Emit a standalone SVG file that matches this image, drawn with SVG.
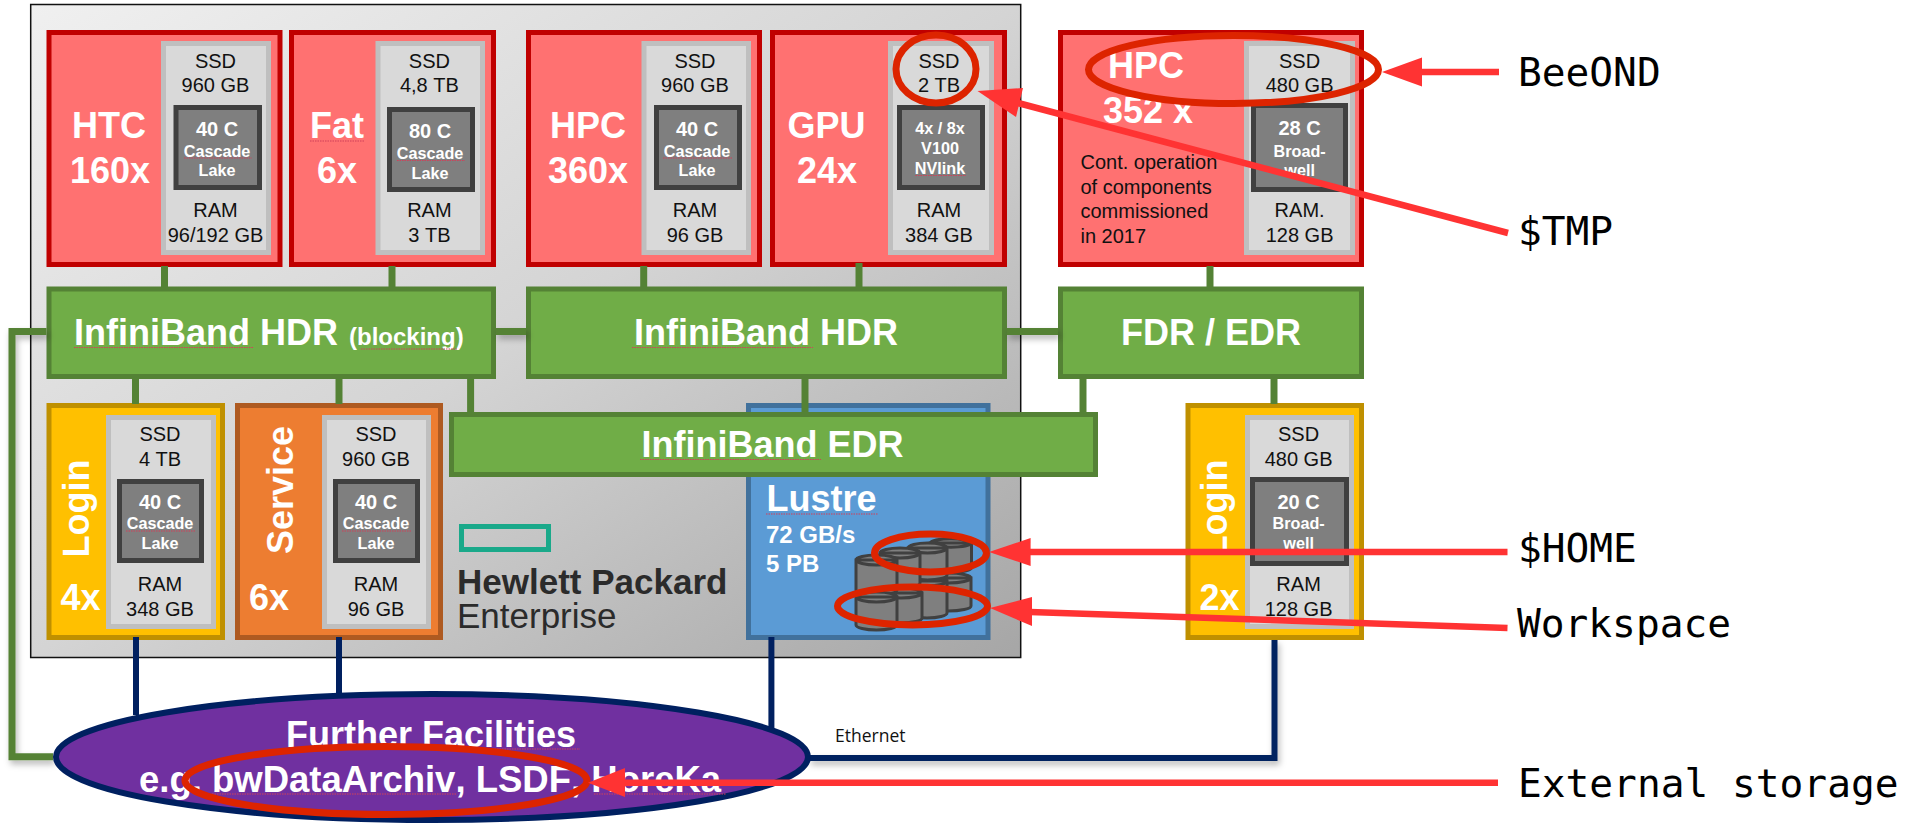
<svg xmlns="http://www.w3.org/2000/svg" width="1921" height="826" viewBox="0 0 1921 826">
<style>
text{font-family:"Liberation Sans",Arial,sans-serif;font-kerning:none}
.r{fill:#ff7171;stroke:#c00000;stroke-width:5}
.y{fill:#ffc000;stroke:#bf9000;stroke-width:5}
.o{fill:#ed7d31;stroke:#ae5a21;stroke-width:5}
.b{fill:#5b9bd5;stroke:#41719c;stroke-width:5}
.g{fill:#70ad47;stroke:#548235;stroke-width:5}
.in{fill:#d9d9d9;stroke:#bfbfbf;stroke-width:5}
.ch{fill:#7f7f7f;stroke:#404040;stroke-width:5}
.sp{font-size:20px;fill:#111;text-anchor:middle}
.c1{font-size:20px;font-weight:700;fill:#fff;text-anchor:middle}
.c2{font-size:16.2px;font-weight:700;fill:#fff;text-anchor:middle}
.big{font-size:36px;font-weight:700;fill:#fff;text-anchor:middle}
.bs{font-size:36px;font-weight:700;fill:#fff}
.note{font-size:20px;fill:#111}
.mono{font-family:"DejaVu Sans Mono","Liberation Mono",monospace;font-size:39.5px;fill:#000}
.sq{fill:none;stroke:#d0405a;stroke-width:1.2;stroke-dasharray:1.5 1}
.cg{fill:none;stroke:#548235;stroke-width:7}
.cn{fill:none;stroke:#002060;stroke-width:6}
.ring{fill:none;stroke:#dd2400;stroke-width:7}
.al{fill:none;stroke:#ff3333;stroke-width:6.5}
.ah{fill:#ff3333}
.cy{fill:#7f7f7f;stroke:#404040;stroke-width:3}
</style>
<defs>
<linearGradient id="panelGrad" x1="0" y1="0" x2="1" y2="1">
<stop offset="0" stop-color="#f0f0f0"/>
<stop offset="0.5" stop-color="#d4d4d4"/>
<stop offset="1" stop-color="#a6a6a6"/>
</linearGradient>
<filter id="shadow" x="-20%" y="-20%" width="140%" height="140%">
<feDropShadow dx="2" dy="4" stdDeviation="3" flood-color="#000" flood-opacity="0.28"/>
</filter>
</defs>

<rect id="panel" x="30.7" y="4.5" width="990" height="653" fill="url(#panelGrad)" stroke="#111" stroke-width="1.5"/>

<g id="node-htc">
<rect class="r" x="49" y="32.5" width="231" height="232"/>
<rect class="in" x="163.5" y="43.5" width="105" height="209"/>
<rect class="ch" x="176" y="107.5" width="83.5" height="80"/>
<text class="big" x="109" y="138">HTC</text><text class="big" x="110" y="182.5">160x</text>
<text class="sp" x="215.5" y="67.7">SSD</text><text class="sp" x="215.5" y="92">960 GB</text>
<text class="c1" x="217" y="136">40 C</text><text class="c2" x="217" y="156.7">Cascade</text><text class="c2" x="217" y="176">Lake</text>
<text class="sp" x="215.5" y="217">RAM</text><text class="sp" x="215.5" y="242">96/192 GB</text>
<line class="sq" x1="184" y1="158" x2="252" y2="158"/>
</g>
<g id="node-fat">
<rect class="r" x="291.5" y="32.5" width="202" height="232"/>
<rect class="in" x="378" y="43.5" width="104.5" height="209"/>
<rect class="ch" x="389.5" y="109.5" width="83" height="80"/>
<text class="big" x="337" y="138">Fat</text><text class="big" x="337" y="182.5">6x</text>
<line class="sq" x1="310" y1="141" x2="365" y2="141"/>
<text class="sp" x="429.4" y="67.7">SSD</text><text class="sp" x="429.4" y="92">4,8 TB</text>
<text class="c1" x="430" y="137.7">80 C</text><text class="c2" x="430" y="159">Cascade</text><text class="c2" x="430" y="178.5">Lake</text>
<text class="sp" x="429.4" y="217">RAM</text><text class="sp" x="429.4" y="242">3 TB</text>
<line class="sq" x1="397" y1="160.5" x2="465" y2="160.5"/>
</g>
<g id="node-hpc360">
<rect class="r" x="528.5" y="32.5" width="231" height="232"/>
<rect class="in" x="644" y="43.5" width="104.5" height="209"/>
<rect class="ch" x="656.5" y="107.5" width="83" height="80"/>
<text class="big" x="588" y="138">HPC</text><text class="big" x="588" y="182.5">360x</text>
<text class="sp" x="695" y="67.7">SSD</text><text class="sp" x="695" y="92">960 GB</text>
<text class="c1" x="697" y="136">40 C</text><text class="c2" x="697" y="156.7">Cascade</text><text class="c2" x="697" y="176">Lake</text>
<text class="sp" x="695" y="217">RAM</text><text class="sp" x="695" y="242">96 GB</text>
<line class="sq" x1="663" y1="158" x2="732" y2="158"/>
</g>
<g id="node-gpu">
<rect class="r" x="772.5" y="32.5" width="232" height="232"/>
<rect class="in" x="890.5" y="43.5" width="101" height="209"/>
<rect class="ch" x="899.5" y="107.5" width="83" height="80"/>
<text class="big" x="826.5" y="138">GPU</text><text class="big" x="827" y="182.5">24x</text>
<text class="sp" x="939" y="67.7">SSD</text><text class="sp" x="939" y="92">2 TB</text>
<text class="c2" x="940" y="134">4x / 8x</text><text class="c2" x="940" y="154">V100</text><text class="c2" x="940" y="174">NVlink</text>
<text class="sp" x="939" y="217">RAM</text><text class="sp" x="939" y="242">384 GB</text>
<line class="sq" x1="915.5" y1="175.5" x2="966" y2="175.5"/>
</g>
<g id="node-hpc352">
<rect class="r" x="1060.5" y="32.5" width="301" height="232"/>
<rect class="in" x="1246.5" y="43.5" width="106" height="209"/>
<rect class="ch" x="1253.5" y="105.5" width="92" height="84"/>
<text class="big" x="1146" y="78">HPC</text><text class="big" x="1148" y="123">352 x</text>
<text class="note" x="1080.5" y="169.3">Cont. operation</text><text class="note" x="1080.5" y="194">of components</text><text class="note" x="1080.5" y="218">commissioned</text><text class="note" x="1080.5" y="243">in 2017</text>
<text class="sp" x="1299.6" y="67.7">SSD</text><text class="sp" x="1299.6" y="92">480 GB</text>
<text class="c1" x="1299.6" y="135">28 C</text><text class="c2" x="1299.6" y="156.7">Broad-</text><text class="c2" x="1299.6" y="175.7">well</text>
<text class="sp" x="1299.6" y="217">RAM.</text><text class="sp" x="1299.6" y="242">128 GB</text>
</g>

<g id="node-ib-hdr-blocking">
<rect class="g" x="49" y="289" width="444.5" height="87.5"/>
<text class="bs" x="74" y="345">InfiniBand HDR <tspan font-size="24" dx="1">(blocking)</tspan></text>
<line class="sq" x1="74" y1="347.5" x2="254" y2="347.5"/><line class="sq" x1="361" y1="349" x2="457" y2="349"/>
</g>
<g id="node-ib-hdr">
<rect class="g" x="528.5" y="289" width="476" height="87.5"/>
<text class="big" x="766" y="345">InfiniBand HDR</text>
<line class="sq" x1="632" y1="347.5" x2="813" y2="347.5"/>
</g>
<g id="node-fdr-edr">
<rect class="g" x="1060.5" y="289" width="301" height="87.5"/>
<text class="big" x="1211" y="345">FDR / EDR</text>
</g>

<g id="node-login4">
<rect class="y" x="49" y="405.5" width="173.5" height="232"/>
<rect class="in" x="108.5" y="417.5" width="105" height="209"/>
<rect class="ch" x="119.5" y="481.5" width="82" height="79"/>
<text class="bs" transform="translate(89 557.5) rotate(-90)">Login</text>
<text class="big" x="80.5" y="610">4x</text>
<text class="sp" x="160" y="441">SSD</text><text class="sp" x="160" y="465.7">4 TB</text>
<text class="c1" x="160" y="509">40 C</text><text class="c2" x="160" y="529.3">Cascade</text><text class="c2" x="160" y="549.3">Lake</text>
<text class="sp" x="160" y="590.7">RAM</text><text class="sp" x="160" y="615.7">348 GB</text>
<line class="sq" x1="126" y1="531" x2="196" y2="531"/>
</g>
<g id="node-service">
<rect class="o" x="237.5" y="405.5" width="203" height="232"/>
<rect class="in" x="324.5" y="417.5" width="104" height="209"/>
<rect class="ch" x="335.5" y="481.5" width="82" height="79"/>
<text class="bs" transform="translate(293 554) rotate(-90)">Service</text>
<text class="big" x="269" y="610">6x</text>
<text class="sp" x="376" y="441">SSD</text><text class="sp" x="376" y="465.7">960 GB</text>
<text class="c1" x="376" y="509">40 C</text><text class="c2" x="376" y="529.3">Cascade</text><text class="c2" x="376" y="549.3">Lake</text>
<text class="sp" x="376" y="590.7">RAM</text><text class="sp" x="376" y="615.7">96 GB</text>
<line class="sq" x1="342" y1="531" x2="412" y2="531"/>
</g>
<g id="logo-hpe">
<rect x="461.5" y="526.5" width="87" height="23" fill="none" stroke="#1aa98a" stroke-width="5"/>
<text x="457" y="594" font-size="35" font-weight="700" fill="#2b2b2b">Hewlett Packard</text>
<text x="457" y="628" font-size="35" fill="#2b2b2b">Enterprise</text>
</g>
<g id="node-lustre">
<rect class="b" x="748.5" y="405.5" width="239.5" height="232"/>
<text class="bs" x="766.5" y="510.7">Lustre</text>
<line class="sq" x1="766" y1="514" x2="878" y2="514"/>
<text x="766" y="542.7" font-size="24" font-weight="700" fill="#fff">72 GB/s</text>
<text x="766" y="572" font-size="24" font-weight="700" fill="#fff">5 PB</text>
<g id="lustre-disks">
<path class="cy" d="M925 578V606A23 5 0 0 0 971 606V578A23 5 0 0 0 925 578A23 5 0 0 0 971 578Z"/>
<path class="cy" d="M907 581V613A20 5 0 0 0 947 613V581A20 5 0 0 0 907 581A20 5 0 0 0 947 581Z"/>
<path class="cy" d="M880 593V618A21 5 0 0 0 922 618V593A21 5 0 0 0 880 593A21 5 0 0 0 922 593Z"/>
<path class="cy" d="M930 543V568A21 5 0 0 0 971.5 568V543A21 5 0 0 0 930 543A21 5 0 0 0 971.5 543Z"/>
<path class="cy" d="M908 548V575A19.5 5 0 0 0 947 575V548A19.5 5 0 0 0 908 548A19.5 5 0 0 0 947 548Z"/>
<path class="cy" d="M880 553V583A20 5 0 0 0 920 583V553A20 5 0 0 0 880 553A20 5 0 0 0 920 553Z"/>
<path class="cy" d="M856 560V590A20.5 5 0 0 0 897 590V560A20.5 5 0 0 0 856 560A20.5 5 0 0 0 897 560Z"/>
<path class="cy" d="M856 597V625A20.5 5 0 0 0 897 625V597A20.5 5 0 0 0 856 597A20.5 5 0 0 0 897 597Z"/>
</g>
</g>
<g id="node-ib-edr">
<rect class="g" x="451.5" y="414.5" width="644" height="60"/>
<text class="big" x="772.5" y="456.7">InfiniBand EDR</text>
<line class="sq" x1="640" y1="459.5" x2="821" y2="459.5"/>
</g>
<g id="node-login2">
<rect class="y" x="1188" y="405.5" width="173.5" height="232"/>
<rect class="in" x="1247.5" y="417.5" width="104" height="209"/>
<rect class="ch" x="1252.5" y="479.5" width="94" height="84"/>
<text class="bs" transform="translate(1227 557.5) rotate(-90)">Login</text>
<text class="big" x="1219.5" y="610">2x</text>
<text class="sp" x="1298.6" y="441">SSD</text><text class="sp" x="1298.6" y="465.7">480 GB</text>
<text class="c1" x="1298.6" y="509">20 C</text><text class="c2" x="1298.6" y="529.3">Broad-</text><text class="c2" x="1298.6" y="549.3">well</text>
<text class="sp" x="1298.6" y="590.7">RAM</text><text class="sp" x="1298.6" y="615.7">128 GB</text>
</g>

<g id="connectors">
<g filter="url(#shadow)">
<path class="cg" d="M46.5 331.5H12V756.7H53"/>
<path class="cg" d="M496 331.5H526"/>
<path class="cg" d="M1007 331.5H1058"/>
<path class="cn" d="M809 758H1274.5V640"/>
</g>
<path class="cg" d="M164.5 266V287"/><path class="cg" d="M392 266V287"/>
<path class="cg" d="M643.7 266V287"/><path class="cg" d="M859 263V287"/>
<path class="cg" d="M1210 266V287"/>
<path class="cg" d="M135.5 379V404"/><path class="cg" d="M339 379V404"/>
<path class="cg" d="M470.6 379V413"/><path class="cg" d="M805 379V413"/>
<path class="cg" d="M1083 379V413"/><path class="cg" d="M1274 379V404"/>
<path class="cn" d="M136 637V715"/><path class="cn" d="M339 637V695"/>
<path class="cn" d="M771.4 637V730"/>
</g>

<g id="node-further-facilities">
<ellipse cx="432" cy="757" rx="376" ry="63" fill="#7030a0" stroke="#002060" stroke-width="6"/>
<text x="431" y="746.7" font-size="36" font-weight="700" fill="#fff" text-anchor="middle">Further Facilities</text>
<line class="sq" x1="422" y1="749" x2="580" y2="749"/>
<text x="139" y="791.7" font-size="36.5" font-weight="700" fill="#fff">e.g. bwDataArchiv, LSDF, HoreKa</text>
<line class="sq" x1="212" y1="794" x2="457" y2="794"/><line class="sq" x1="594" y1="794" x2="726" y2="794"/>
</g>

<text id="label-ethernet" x="835" y="741.7" font-size="17.5" style="font-family:'Open Sans','Liberation Sans',sans-serif" fill="#111">Ethernet</text>

<g id="annotations">
<ellipse class="ring" cx="936" cy="69" rx="40" ry="34"/>
<ellipse class="ring" cx="1233.5" cy="69.5" rx="145" ry="34"/>
<ellipse class="ring" cx="930.5" cy="553" rx="56" ry="19"/>
<ellipse class="ring" cx="912.5" cy="606" rx="75" ry="19"/>
<ellipse class="ring" cx="386" cy="780.5" rx="201" ry="34"/>
<line class="al" x1="1420" y1="72" x2="1499" y2="72"/>
<polygon class="ah" points="1382,72 1422,57.5 1422,86.5"/>
<line class="al" x1="1018" y1="103" x2="1508" y2="233"/>
<polygon class="ah" points="977.5,91 1023,88 1016,117"/>
<line class="al" x1="1028" y1="552" x2="1507.5" y2="552"/>
<polygon class="ah" points="989,552 1030.6,538 1030.6,566"/>
<line class="al" x1="1030" y1="612" x2="1507.5" y2="628"/>
<polygon class="ah" points="990,608 1032,597 1032,626"/>
<line class="al" x1="622" y1="782.7" x2="1498" y2="782.7"/>
<polygon class="ah" points="588,782.7 625,768 625,797"/>
</g>

<g id="labels">
<text class="mono" x="1518" y="86">BeeOND</text>
<text class="mono" x="1518" y="245">$TMP</text>
<text class="mono" x="1518" y="561.7">$HOME</text>
<text class="mono" x="1517" y="637">Workspace</text>
<text class="mono" x="1518" y="797">External storage</text>
</g>
</svg>
